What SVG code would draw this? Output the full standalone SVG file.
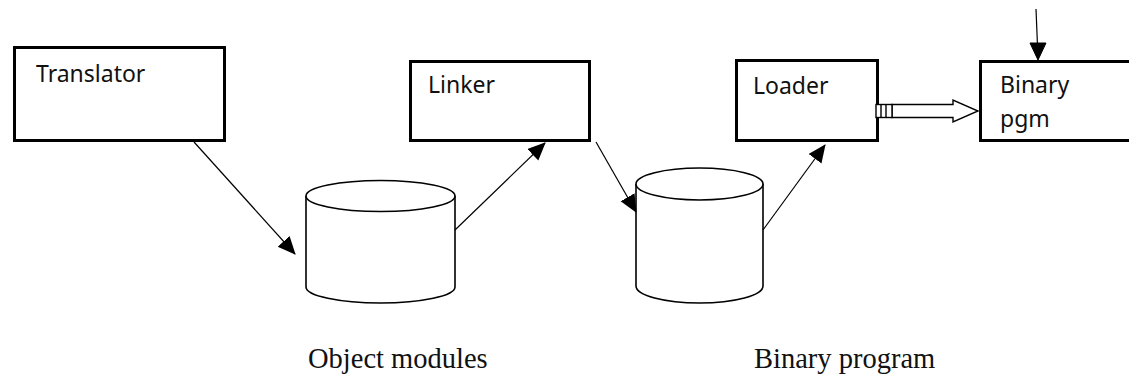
<svg xmlns="http://www.w3.org/2000/svg" width="1129" height="379" viewBox="0 0 1129 379">
<style>
.box{fill:#fff;stroke:#000;stroke-width:3}
.lbl{font-family:"Noto Sans","Open Sans",sans-serif;font-size:23px;fill:#111}
.cap{font-family:"Liberation Serif","Times New Roman",serif;font-size:28.5px;fill:#111}
.cyl{fill:#fff;stroke:#000;stroke-width:1.6}
.con{fill:none;stroke:#000;stroke-width:1.2}
.head{fill:#000;stroke:#000;stroke-width:1}
</style>
<defs>
<marker id="ah" markerUnits="userSpaceOnUse" markerWidth="20" markerHeight="18" refX="17" refY="8" orient="auto">
<path d="M0,0 L18,8 L0,16 Z" fill="#000"/>
</marker>
</defs>
<rect width="1129" height="379" fill="#fff"/>
<g id="translator">
<rect class="box" x="14.5" y="47.5" width="210" height="93"/>
<text class="lbl" x="36" y="82">Translator</text>
</g>
<g id="linker">
<rect class="box" x="410.5" y="61.5" width="179" height="79"/>
<text class="lbl" x="428" y="93">Linker</text>
</g>
<g id="loader">
<rect class="box" x="736.5" y="60.5" width="141" height="80"/>
<text class="lbl" x="753" y="94">Loader</text>
</g>
<g id="binary-pgm">
<rect class="box" x="980.5" y="61.5" width="160" height="79"/>
<text class="lbl" x="1000" y="93">Binary</text>
<text class="lbl" x="1000" y="127">pgm</text>
</g>
<g id="object-modules">
<path class="cyl" d="M306,196 L306,287 A74.5,16 0 0 0 455,287 L455,196"/>
<ellipse class="cyl" cx="380.5" cy="196" rx="74.5" ry="15.5"/>
<text class="cap" x="308" y="368">Object modules</text>
</g>
<g id="binary-program">
<path class="cyl" d="M636,184 L636,286 A63.5,17 0 0 0 763,286 L763,184"/>
<ellipse class="cyl" cx="699.5" cy="184" rx="63.5" ry="16"/>
<text class="cap" x="754" y="368">Binary program</text>
</g>
<g id="connectors">
<line class="con" x1="194" y1="142" x2="295" y2="254" marker-end="url(#ah)"/>
<line class="con" x1="455" y1="230" x2="545" y2="143" marker-end="url(#ah)"/>
<line class="con" x1="596" y1="142" x2="636" y2="212" stroke-width="2.2" marker-end="url(#ah)"/>
<line class="con" x1="763" y1="230" x2="825" y2="145" marker-end="url(#ah)"/>
<g id="top-arrow">
<line class="con" x1="1036" y1="9" x2="1037.5" y2="46" stroke-width="1.8"/>
<polygon class="head" points="1030,43 1046,43 1038,60"/>
</g>
<g id="block-arrow" stroke="#000" stroke-width="1.4" fill="#fff">
<path d="M892,104.5 L953,104.5 L953,100 L978,111 L953,122 L953,117.5 L892,117.5 Z"/>
<rect x="876" y="104.5" width="16" height="13" fill="#fff"/>
<line x1="881" y1="104.5" x2="881" y2="117.5"/>
<line x1="886" y1="104.5" x2="886" y2="117.5"/>
</g>
</g>
</svg>
